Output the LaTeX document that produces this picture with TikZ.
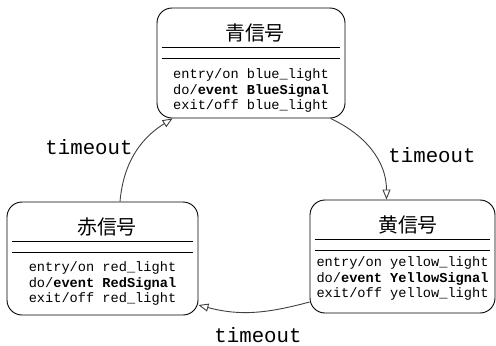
\documentclass[tikz,border=0pt]{standalone}
\usepackage{fontspec}
\setmainfont{Liberation Mono}
\setmonofont{Liberation Mono}
\newfontfamily\jpfont{Noto Sans CJK JP}
\usetikzlibrary{arrows.meta, positioning, calc}

\begin{document}
\begin{tikzpicture}[x=1bp, y=-1bp, >={Triangle[open, length=10bp, width=8bp]}, line width=0.9bp,
    every node/.style={align=left, inner sep=0pt},
    statebox/.style={draw, rounded corners=15bp, minimum height=113bp},
    stname/.style={font=\jpfont\fontsize{20}{22}\selectfont},
    stbody/.style={font=\ttfamily\fontsize{13.7}{15.5}\selectfont, anchor=north},
    evlabel/.style={font=\ttfamily\fontsize{20.8}{22}\selectfont},
    trans/.style={->, draw=black!75}]
  \useasboundingbox (0,0) rectangle (496,345);

  % states
  \node[statebox, minimum width=188bp, minimum height=110bp] (blue) at (251,63) {};
  \node[statebox, minimum width=191bp] (red) at (102.5,258.5) {};
  \node[statebox, minimum width=185bp] (yellow) at (402.5,256.5) {};

  \node[stname] (bluename) at ($(blue.north)+(4,25)$) {青信号};
  \node[stname] (redname) at ($(red.north)+(4.5,25)$) {赤信号};
  \node[stname] (yellowname) at ($(yellow.north)+(5.5,25)$) {黄信号};

  \foreach \s in {blue,red,yellow} {
    \draw ($(\s.north west)+(5,40)$) -- ($(\s.north east)+(-5,40)$);
    \draw ($(\s.north west)+(5,50.5)$) -- ($(\s.north east)+(-5,50.5)$);
  }

  \node[stbody] (bluebody) at ($(blue.north)+(0,61)$)
    {entry/on blue\_light\\do/\textbf{event BlueSignal}\\exit/off blue\_light};
  \node[stbody] (redbody) at ($(red.north)+(0,60)$)
    {entry/on red\_light\\do/\textbf{event RedSignal}\\exit/off red\_light};
  \node[stbody] (yellowbody) at ($(yellow.north)+(0,57)$)
    {entry/on yellow\_light\\do/\textbf{event YellowSignal}\\exit/off yellow\_light};

  % transitions
  \draw[trans] ([xshift=-15bp]blue.south east) to[out=-25, in=90] ([xshift=-16bp]yellow.north);
  \draw[trans] ([yshift=-45.5bp]yellow.west) to[out=195, in=-15] ([yshift=-46.5bp]red.east);
  \draw[trans] ([xshift=17.5bp]red.north) to[out=85, in=212] ([xshift=16bp]blue.south west);

  \node[evlabel] (tmright) at (432,155) {timeout};
  \node[evlabel] (tmbottom) at (258,335) {timeout};
  \node[evlabel] (tmleft) at (89,147) {timeout};
\end{tikzpicture}
\end{document}
